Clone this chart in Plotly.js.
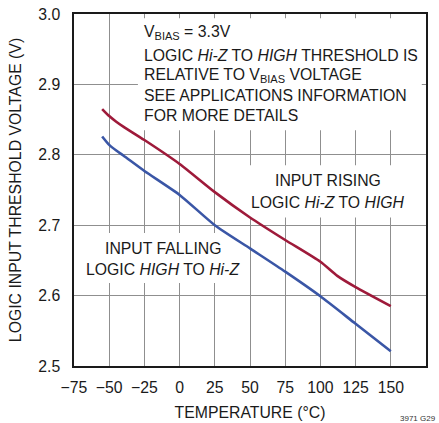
<!DOCTYPE html>
<html>
<head>
<meta charset="utf-8">
<script src="https://cdn.plot.ly/plotly-3.0.1.min.js"></script>
<style>html,body{margin:0;padding:0;background:#fff;}#chart{width:439px;height:423px;}</style>
</head>
<body>
<div id="chart"></div>
<script>
var FONT = '"Liberation Sans", Arial, sans-serif';
var FS = 15.8;

var tempRising = [-55, -50, -45, -40, -25, 0, 25, 50, 75, 100, 112, 125, 150];
var vRising    = [2.865, 2.855, 2.847, 2.840, 2.821, 2.787, 2.747, 2.711, 2.679, 2.648, 2.628, 2.612, 2.585];

var tempFalling = [-55, -50, -45, -40, -25, 0, 25, 50, 75, 100, 125, 150];
var vFalling    = [2.826, 2.814, 2.806, 2.799, 2.777, 2.743, 2.700, 2.667, 2.634, 2.599, 2.560, 2.521];

var xTicks = [-75, -50, -25, 0, 25, 50, 75, 100, 125, 150, 175];
var yTicks = [2.5, 2.6, 2.7, 2.8, 2.9, 3.0];
var yTickText = ['2.5', '2.6', '2.7', '2.8', '2.9', '3.0'];

var traces = [
  {x: tempRising, y: vRising, mode: 'lines', line: {color: '#9e1a3a', width: 2.6, shape: 'spline', smoothing: 0.6}, hoverinfo: 'none'},
  {x: tempFalling, y: vFalling, mode: 'lines', line: {color: '#3a56a6', width: 2.6, shape: 'spline', smoothing: 0.6}, hoverinfo: 'none'}
];

function ann(x, y, text, xanchor) {
  return {x: x, y: y, xref: 'x', yref: 'y', text: text, showarrow: false,
          xanchor: xanchor || 'center', yanchor: 'middle',
          font: {family: FONT, size: FS, color: '#1a1a1a'}};
}

var layout = {
  width: 439, height: 423,
  margin: {l: 74, r: 13, t: 14, b: 57},
  paper_bgcolor: '#fff', plot_bgcolor: '#fff',
  showlegend: false,
  font: {family: FONT, size: FS, color: '#1a1a1a'},
  xaxis: {
    range: [-75, 175], tickvals: xTicks, ticks: '', ticklabelstandoff: 6, tickangle: 0,
    showgrid: true, gridcolor: '#8f8f8f', gridwidth: 1,
    showline: true, mirror: true, linecolor: '#1a1a1a', linewidth: 1.6,
    zeroline: false, tickfont: {family: FONT, size: FS},
    title: {text: 'TEMPERATURE (°C)', font: {family: FONT, size: FS}, standoff: 12}
  },
  yaxis: {
    range: [2.5, 3.0], tickvals: yTicks, ticktext: yTickText, ticks: '', ticklabelstandoff: 9,
    showgrid: true, gridcolor: '#8f8f8f', gridwidth: 1,
    showline: true, mirror: true, linecolor: '#1a1a1a', linewidth: 1.6,
    zeroline: false, tickfont: {family: FONT, size: FS},
    title: {text: 'LOGIC INPUT THRESHOLD VOLTAGE (V)', font: {family: FONT, size: FS}, standoff: 13}
  },
  shapes: [
    {type: 'rect', xref: 'x', yref: 'y', x0: -29.6, x1: 172, y0: 2.835, y1: 2.994, fillcolor: '#fff', line: {width: 0}, layer: 'between'},
    {type: 'rect', xref: 'x', yref: 'y', x0: 47, x1: 172, y0: 2.711, y1: 2.785, fillcolor: '#fff', line: {width: 0}, layer: 'between'},
    {type: 'rect', xref: 'x', yref: 'y', x0: -65, x1: 40, y0: 2.618, y1: 2.689, fillcolor: '#fff', line: {width: 0}, layer: 'between'}
  ],
  annotations: [
    ann(-26.7, 2.9744, 'V<sub>BIAS</sub> = 3.3V', 'left'),
    ann(-26.7, 2.9417, 'LOGIC <i>Hi-Z</i> TO <i>HIGH</i> THRESHOLD IS', 'left'),
    ann(-26.7, 2.9133, 'RELATIVE TO V<sub>BIAS</sub> VOLTAGE', 'left'),
    ann(-26.7, 2.8848, 'SEE APPLICATIONS INFORMATION', 'left'),
    ann(-26.7, 2.8564, 'FOR MORE DETAILS', 'left'),
    ann(105.3, 2.764, 'INPUT RISING'),
    ann(105.3, 2.7327, 'LOGIC <i>Hi-Z</i> TO <i>HIGH</i>'),
    ann(-11.5, 2.6673, 'INPUT FALLING'),
    ann(-11.5, 2.6375, 'LOGIC <i>HIGH</i> TO <i>Hi-Z</i>'),
    {x: 0, y: 0, xref: 'paper', yref: 'paper', text: '3971 G29', showarrow: false,
     xanchor: 'left', yanchor: 'top', font: {family: FONT, size: 8, color: '#333'}}
  ]
};
// place watermark by pixel position
layout.annotations[9].x = (398 - 74) / (439 - 74 - 13);
layout.annotations[9].y = (423 - 57 - 412) / (423 - 14 - 57);

Plotly.newPlot('chart', traces, layout, {staticPlot: true, displayModeBar: false});
</script>
</body>
</html>
